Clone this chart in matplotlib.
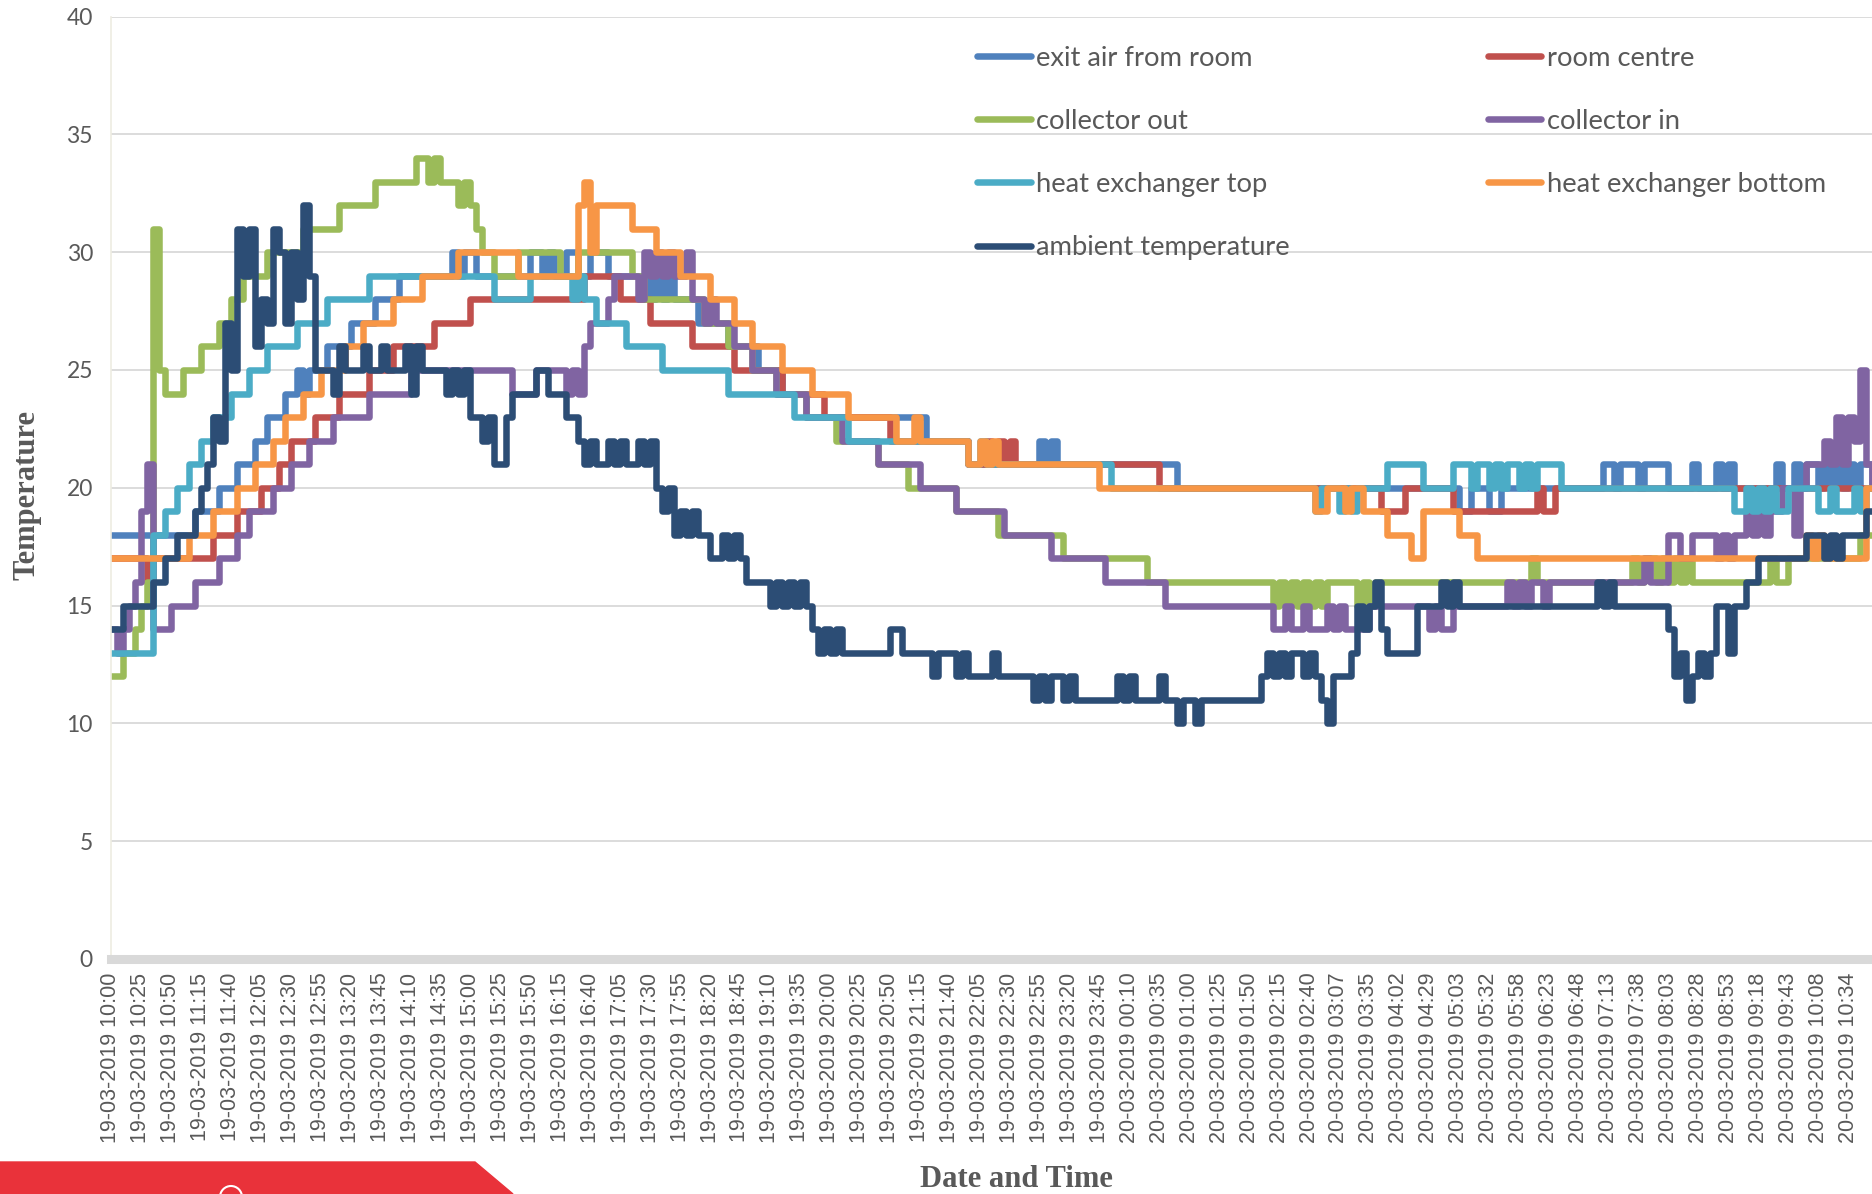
import numpy as np
import matplotlib.pyplot as plt
from matplotlib.lines import Line2D
from matplotlib.patches import Polygon, Circle
from matplotlib.transforms import IdentityTransform

# one sample = 5 minutes (first part of the log), 59 labelled samples
n_samples = 296

tick_labels = [
    "19-03-2019 10:00", "19-03-2019 10:25", "19-03-2019 10:50", "19-03-2019 11:15",
    "19-03-2019 11:40", "19-03-2019 12:05", "19-03-2019 12:30", "19-03-2019 12:55",
    "19-03-2019 13:20", "19-03-2019 13:45", "19-03-2019 14:10", "19-03-2019 14:35",
    "19-03-2019 15:00", "19-03-2019 15:25", "19-03-2019 15:50", "19-03-2019 16:15",
    "19-03-2019 16:40", "19-03-2019 17:05", "19-03-2019 17:30", "19-03-2019 17:55",
    "19-03-2019 18:20", "19-03-2019 18:45", "19-03-2019 19:10", "19-03-2019 19:35",
    "19-03-2019 20:00", "19-03-2019 20:25", "19-03-2019 20:50", "19-03-2019 21:15",
    "19-03-2019 21:40", "19-03-2019 22:05", "19-03-2019 22:30", "19-03-2019 22:55",
    "19-03-2019 23:20", "19-03-2019 23:45", "20-03-2019 00:10", "20-03-2019 00:35",
    "20-03-2019 01:00", "20-03-2019 01:25", "20-03-2019 01:50", "20-03-2019 02:15",
    "20-03-2019 02:40", "20-03-2019 03:07", "20-03-2019 03:35", "20-03-2019 04:02",
    "20-03-2019 04:29", "20-03-2019 05:03", "20-03-2019 05:32", "20-03-2019 05:58",
    "20-03-2019 06:23", "20-03-2019 06:48", "20-03-2019 07:13", "20-03-2019 07:38",
    "20-03-2019 08:03", "20-03-2019 08:28", "20-03-2019 08:53", "20-03-2019 09:18",
    "20-03-2019 09:43", "20-03-2019 10:08", "20-03-2019 10:34",
]

# (sample where the reading changes, temperature)
exit_air = [(0,18),(14,19),(18,20),(21,21),(24,22),(26,23),(29,24),(31,25),(32,24),(33,25),
            (36,26),(40,27),(44,28),(48,29),(57,30),(58,29),(59,30),(61,29),(70,30),(72,29),
            (73,30),(74,29),(76,30),(78,29),(80,30),(83,29),(90,28),(91,29),(92,28),(93,29),
            (94,28),(98,27),(103,26),(108,25),(112,24),(116,23),(136,22),(143,21),(155,22),(156,21),
            (157,22),(158,21),(178,20),(225,19),(227,20),(230,19),(232,20),(249,21),(251,20),(252,21),
            (255,20),(256,21),(260,20),(264,21),(265,20),(268,21),(269,20),(270,21),(271,20),(278,21),
            (279,20),(281,21),(282,20),(283,21),(285,20),(286,21),(287,20),(288,21),(289,20),(290,21),
            (291,20),(292,21),(294,20)]

room_centre = [(0,17),(6,16),(7,17),(17,18),(21,19),(25,20),(28,21),(30,22),(34,23),(38,24),
               (43,25),(47,26),(54,27),(60,28),(79,29),(85,28),(90,27),(97,26),(104,25),(112,24),
               (119,23),(130,22),(143,21),(146,22),(147,21),(148,22),(149,21),(150,22),(151,21),(175,20),
               (212,19),(216,20),(224,19),(238,20),(239,19),(241,20)]

collector_out = [(0,12),(2,13),(4,14),(5,15),(6,16),(7,31),(8,25),(9,24),(12,25),(15,26),
                 (18,27),(20,28),(22,29),(26,30),(32,31),(38,32),(44,33),(51,34),(53,33),(54,34),
                 (55,33),(58,32),(59,33),(60,32),(61,31),(62,30),(64,29),(68,30),(75,29),(78,30),
                 (87,29),(89,28),(99,27),(103,26),(107,25),(111,24),(116,23),(121,22),(128,21),(133,20),
                 (141,19),(148,18),(159,17),(173,16),(194,15),(195,16),(196,15),(197,16),(198,15),(199,16),
                 (200,15),(201,16),(202,15),(203,16),(208,15),(209,16),(210,15),(211,16),(237,17),(238,16),
                 (254,17),(255,16),(256,17),(258,16),(259,17),(260,16),(261,17),(262,16),(263,17),(264,16),
                 (277,17),(278,16),(280,17),(292,18)]

collector_in = [(0,14),(1,13),(2,14),(3,15),(4,16),(5,19),(6,21),(7,14),(10,15),(14,16),
                (18,17),(21,18),(23,19),(27,20),(30,21),(33,22),(37,23),(43,24),(50,25),(67,24),
                (71,25),(76,24),(77,25),(78,24),(79,26),(80,27),(83,28),(84,29),(88,28),(89,30),
                (90,29),(91,30),(92,29),(93,30),(94,29),(96,30),(97,28),(99,27),(100,28),(101,27),
                (104,26),(107,25),(111,24),(116,23),(122,22),(128,21),(135,20),(141,19),(149,18),(157,17),
                (166,16),(176,15),(194,14),(196,15),(197,14),(199,15),(200,14),(203,15),(204,14),(205,15),
                (206,14),(210,15),(220,14),(221,15),(222,14),(224,15),(233,16),(234,15),(235,16),(236,15),
                (237,16),(239,15),(240,16),(256,17),(257,16),(260,18),(262,17),(264,18),(268,17),(269,18),
                (270,17),(271,18),(273,19),(274,18),(275,19),(276,18),(277,19),(279,20),(281,18),(282,20),
                (283,21),(286,22),(287,21),(288,23),(289,21),(290,23),(291,22),(292,25),(293,21),(294,20)]

hx_top = [(0,13),(7,18),(9,19),(11,20),(13,21),(15,22),(17,23),(20,24),(23,25),(26,26),
          (31,27),(36,28),(43,29),(64,28),(70,29),(77,28),(78,29),(79,28),(81,27),(86,26),
          (92,25),(103,24),(114,23),(123,22),(143,21),(145,22),(146,21),(167,20),(201,19),(202,20),
          (205,19),(206,20),(207,19),(208,20),(213,21),(219,20),(224,21),(227,20),(228,21),(230,20),
          (231,21),(232,20),(233,21),(235,20),(236,21),(237,20),(238,21),(242,20),(271,19),(273,20),
          (274,19),(275,20),(276,19),(277,20),(278,19),(280,20),(285,19),(287,20),(288,19),(291,20),
          (292,19),(293,20)]

hx_bottom = [(0,17),(13,18),(17,19),(21,20),(24,21),(27,22),(29,23),(32,24),(35,25),(39,26),
             (42,27),(47,28),(52,29),(58,30),(68,29),(78,32),(79,33),(80,30),(81,32),(87,31),
             (91,30),(95,29),(100,28),(104,27),(107,26),(112,25),(117,24),(123,23),(131,22),(134,23),
             (135,22),(143,21),(145,22),(146,21),(147,22),(148,21),(165,20),(201,19),(203,20),(206,19),
             (207,20),(209,19),(213,18),(217,17),(219,19),(225,18),(228,17),(283,18),(284,17),(285,18),
             (286,17),(293,20)]

ambient = [(0,14),(2,15),(7,16),(9,17),(11,18),(14,19),(15,20),(16,21),(17,23),(18,22),
           (19,27),(20,25),(21,31),(22,29),(23,31),(24,26),(25,28),(26,27),(27,31),(28,30),
           (29,27),(30,30),(31,28),(32,32),(33,29),(34,25),(37,24),(38,26),(39,25),(42,26),
           (43,25),(45,26),(46,25),(49,26),(50,24),(51,26),(52,25),(56,24),(57,25),(58,24),
           (59,25),(60,23),(62,22),(63,23),(64,21),(66,23),(67,24),(71,25),(73,24),(76,23),
           (78,22),(79,21),(80,22),(81,21),(83,22),(84,21),(85,22),(86,21),(88,22),(89,21),
           (90,22),(91,20),(92,19),(93,20),(94,18),(95,19),(96,18),(97,19),(98,18),(100,17),
           (102,18),(103,17),(104,18),(105,17),(106,16),(110,15),(111,16),(112,15),(113,16),(114,15),
           (115,16),(116,15),(117,14),(118,13),(119,14),(120,13),(121,14),(122,13),(130,14),(132,13),
           (137,12),(138,13),(141,12),(142,13),(143,12),(147,13),(148,12),(154,11),(155,12),(156,11),
           (157,12),(159,11),(160,12),(161,11),(168,12),(169,11),(170,12),(171,11),(175,12),(176,11),
           (178,10),(179,11),(181,10),(182,11),(192,12),(193,13),(194,12),(195,13),(196,12),(197,13),
           (199,12),(200,13),(201,12),(202,11),(203,10),(204,12),(207,13),(208,15),(209,14),(210,15),
           (211,16),(212,14),(213,13),(218,15),(222,16),(223,15),(224,16),(225,15),(248,16),(249,15),
           (250,16),(251,15),(260,14),(261,12),(262,13),(263,11),(264,12),(265,13),(266,12),(267,13),
           (268,15),(270,13),(271,15),(273,16),(275,17),(283,18),(286,17),(287,18),(288,17),(289,18),
           (293,19)]

series = [
    ("exit air from room", exit_air, "#4F81BD"),
    ("room centre", room_centre, "#C0504D"),
    ("collector out", collector_out, "#9BBB59"),
    ("collector in", collector_in, "#8064A2"),
    ("heat exchanger top", hx_top, "#4BACC6"),
    ("heat exchanger bottom", hx_bottom, "#F79646"),
    ("ambient temperature", ambient, "#2C4D75"),
]

W, H = 1872, 1194
LW = 4.7
fig = plt.figure(figsize=(W / 100, H / 100), dpi=100)
ax = fig.add_axes([111 / W, 1 - 958.8 / H, (W - 111) / W, (958.8 - 16.7) / H])

x = np.arange(n_samples)
handles = {}
for name, changes, col in series:
    starts, temps = zip(*changes)
    y = np.repeat(temps, np.diff(list(starts) + [n_samples]))
    ln, = ax.plot(x, y, drawstyle="steps-post", color=col, lw=LW,
                  solid_capstyle="round", solid_joinstyle="round")
    handles[name] = ln

ax.set_xlim(0, (W - 111) / 5.99)
ax.set_ylim(0, 40)
ax.set_yticks(range(0, 41, 5))
ax.yaxis.grid(True, color="#D9D9D9", lw=1.3)
ax.set_axisbelow(True)
ax.set_xticks(np.arange(len(tick_labels)) * 5)
ax.set_xticklabels(tick_labels, rotation=90, fontsize=15.5, family="Liberation Sans", color="#595959")
for lab in ax.get_yticklabels():
    lab.set_family("Lato")
ax.tick_params(axis="y", length=0, pad=13, labelsize=16.5, labelcolor="#595959")
ax.tick_params(axis="x", length=0, pad=10)
for s in ["top", "right"]:
    ax.spines[s].set_visible(False)
ax.spines["left"].set_color("#EEECE1")
ax.spines["left"].set_linewidth(1.2)
ax.spines["bottom"].set_color("#D9D9D9")
ax.spines["bottom"].set_linewidth(6.5)

order = ["exit air from room", "collector out", "heat exchanger top", "ambient temperature",
         "room centre", "collector in", "heat exchanger bottom"]
leg_handles = [Line2D([], [], color=handles[n].get_color(), lw=LW, solid_capstyle="round") for n in order]
fig.legend(leg_handles, order, ncol=2, loc="upper left",
           bbox_to_anchor=(977 / W, 1 - 46 / H), frameon=False,
           prop={"family": "Lato", "size": 19.7}, labelcolor="#595959",
           handlelength=1.97, handletextpad=0.2, columnspacing=7.22,
           labelspacing=1.39, borderpad=0, borderaxespad=0)

fig.text(27 / W, 1 - 495 / H, "Temperature", rotation=90, ha="center", va="center",
         family="Liberation Serif", weight="bold", fontsize=22, color="#595959")
fig.text(1016 / W, 1 - 1187 / H, "Date and Time", ha="center", va="baseline",
         family="Liberation Serif", weight="bold", fontsize=22, color="#595959")

# red banner at the bottom-left corner of the page
fig.add_artist(Polygon([[0, 1 - 1162 / H], [475 / W, 1 - 1162 / H], [513 / W, 0], [0, 0]],
                       closed=True, transform=fig.transFigure, color="#E9323A"))
fig.add_artist(Circle((231, -3), 11, transform=IdentityTransform(), fill=False,
                      edgecolor="white", lw=1.5))

fig.savefig("out.png", dpi=100)
